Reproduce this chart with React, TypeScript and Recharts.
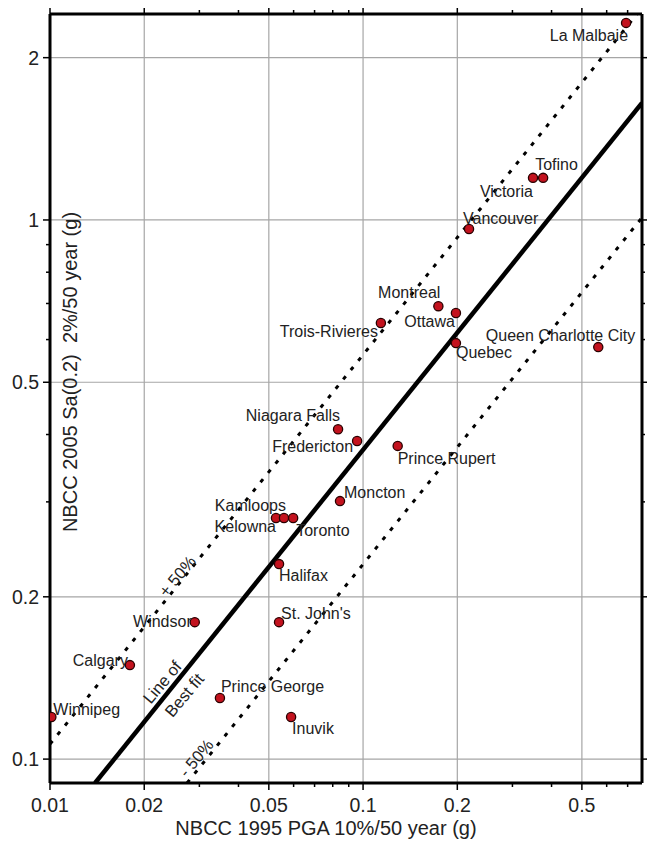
import React from 'react';
import { ScatterChart, Scatter, XAxis, YAxis, CartesianGrid } from 'recharts';

// city names and the two hazard values
const cities = [
  'La Malbaie', 'Tofino', 'Victoria', 'Vancouver', 'Montreal', 'Ottawa',
  'Trois-Rivieres', 'Quebec', 'Queen Charlotte City', 'Niagara Falls',
  'Fredericton', 'Prince Rupert', 'Moncton', 'Kamloops', 'Kelowna', 'Toronto',
  'Halifax', 'Windsor', "St. John's", 'Calgary', 'Prince George', 'Inuvik',
  'Winnipeg',
];
const pga1995 = [
  0.692, 0.376, 0.349, 0.218, 0.174, 0.198, 0.114, 0.198, 0.564, 0.0832,
  0.0957, 0.129, 0.0844, 0.0527, 0.0559, 0.0598, 0.0539, 0.029, 0.0539,
  0.018, 0.0349, 0.0589, 0.0101,
];
const sa2005 = [
  2.32, 1.197, 1.197, 0.962, 0.692, 0.672, 0.644, 0.591, 0.581, 0.409,
  0.389, 0.381, 0.301, 0.28, 0.28, 0.28, 0.23, 0.1795, 0.1795, 0.1494,
  0.1298, 0.1197, 0.1197,
];

const xMajor = [0.01, 0.02, 0.05, 0.1, 0.2, 0.5];
const xMinor = [0.03, 0.04, 0.06, 0.07, 0.08, 0.09, 0.3, 0.4, 0.6, 0.7];
const yMajor = [0.1, 0.2, 0.5, 1, 2];
const yMinor = [0.3, 0.4, 0.6, 0.7, 0.8, 0.9];

const xDomain = [0.01, 0.778];
const yDomain = [0.0903, 2.41];

// line endpoints
const bestFit = [{ x: 0.01393, y: 0.0903 }, { x: 0.778, y: 1.648 }];
const plus50 = [{ x: 0.01, y: 0.1066 }, { x: 0.75, y: 2.41 }];
const minus50 = [{ x: 0.0274, y: 0.0903 }, { x: 0.778, y: 1.01 }];

const lineNotes = [
  { x: 0.0228, y: 0.139, text: 'Line of' },
  { x: 0.0268, y: 0.1315, text: 'Best fit' },
  { x: 0.02546, y: 0.2185, text: '+ 50%' },
  { x: 0.02928, y: 0.1005, text: '- 50%' },
];

const points = cities.map((name, i) => ({ name, x: pga1995[i], y: sa2005[i] }));

const FONT = '"Liberation Sans", Arial, Helvetica, sans-serif';

// label placement: anchor, dx, dy (baseline) relative to the dot
const labelPos: Record<string, [string, number, number]> = {
  'La Malbaie': ['end', 2, 18],
  Tofino: ['start', -8, -8],
  Victoria: ['end', 0, 19],
  Vancouver: ['start', -6, -5],
  Montreal: ['end', 2, -8],
  Ottawa: ['end', -1, 14],
  'Trois-Rivieres': ['end', -3, 14],
  Quebec: ['start', 0, 15],
  'Queen Charlotte City': ['end', 37, -6],
  'Niagara Falls': ['end', 2, -8],
  Fredericton: ['end', -4, 11],
  'Prince Rupert': ['start', 0, 18],
  Moncton: ['start', 4, -3],
  Kamloops: ['end', 10, -7],
  Kelowna: ['end', -8, 14],
  Toronto: ['start', 3, 18],
  Halifax: ['start', 0, 17],
  Windsor: ['end', -3, 5],
  "St. John's": ['start', 2, -3],
  Calgary: ['end', -2, 1],
  'Prince George': ['start', 1, -6],
  Inuvik: ['start', 1, 17],
  Winnipeg: ['start', 2, -2],
};

const CityDot = (props: any) => {
  const { cx, cy, payload } = props;
  const [anchor, dx, dy] = labelPos[payload.name] || ['start', 6, -6];
  return (
    <g>
      <circle cx={cx} cy={cy} r={4.6} fill="#c3121e" stroke="#2a0000" strokeWidth={1.3} />
      <text x={cx + dx} y={cy + dy} textAnchor={anchor} fontSize={16} fontFamily={FONT} fill="#222">
        {payload.name}
      </text>
    </g>
  );
};

const NoteText = (props: any) => {
  const { cx, cy, payload } = props;
  return (
    <text
      x={cx}
      y={cy}
      textAnchor="middle"
      dominantBaseline="central"
      fontSize={16.5}
      fontFamily={FONT}
      fill="#222"
      transform={`rotate(-50 ${cx} ${cy})`}
    >
      {payload.text}
    </text>
  );
};

const Nothing = () => <g />;

const BottomTick = (props: any) => {
  const { x, y, payload } = props;
  const major = xMajor.includes(payload.value);
  return (
    <g>
      <line x1={x} x2={x} y1={y} y2={y + (major ? 7 : 4)} stroke="#000" strokeWidth={1.5} />
      {major && (
        <text x={x} y={y + 29} textAnchor="middle" fontSize={19.5} fontFamily={FONT} fill="#222">
          {String(payload.value)}
        </text>
      )}
    </g>
  );
};

const TopTick = (props: any) => {
  const { x, y, payload } = props;
  const major = xMajor.includes(payload.value);
  return <line x1={x} x2={x} y1={y} y2={y - (major ? 6 : 4)} stroke="#000" strokeWidth={1.5} />;
};

const LeftTick = (props: any) => {
  const { x, y, payload } = props;
  const major = yMajor.includes(payload.value);
  return (
    <g>
      <line x1={x - (major ? 7 : 4)} x2={x} y1={y} y2={y} stroke="#000" strokeWidth={1.5} />
      {major && (
        <text x={x - 11} y={y + 7} textAnchor="end" fontSize={19.5} fontFamily={FONT} fill="#222">
          {String(payload.value)}
        </text>
      )}
    </g>
  );
};

const RightTick = (props: any) => {
  const { x, y, payload } = props;
  const major = yMajor.includes(payload.value);
  return <line x1={x} x2={x + (major ? 5 : 3)} y1={y} y2={y} stroke="#000" strokeWidth={1.5} />;
};

const XTitle = (props: any) => {
  const { x, y } = props.viewBox;
  return (
    <text x={x + 276} y={y + 52} textAnchor="middle" fontSize={20} fontFamily={FONT} fill="#222">
      NBCC 1995 PGA 10%/50 year (g)
    </text>
  );
};

const YTitle = (props: any) => {
  const { x, width } = props.viewBox;
  const cx = x + width + 20;
  const cy = 372;
  return (
    <text
      x={cx}
      y={cy}
      textAnchor="middle"
      dominantBaseline="central"
      fontSize={20}
      fontFamily={FONT}
      fill="#222"
      transform={`rotate(-90 ${cx} ${cy})`}
    >
      {'NBCC 2005 Sa(0.2)\u00a0\u00a02%/50 year (g)'}
    </text>
  );
};

const xTicks = [...xMajor, ...xMinor].sort((a, b) => a - b);
const yTicks = [...yMajor, ...yMinor].sort((a, b) => a - b);

export default function App() {
  return (
    <div style={{ position: 'absolute', left: 0, top: 0, background: '#fff' }}>
      <ScatterChart width={647} height={842} margin={{ top: 0, right: 0, bottom: 0, left: 0 }}>
        <CartesianGrid
          xAxisId="b"
          yAxisId="l"
          stroke="#a6a6a6"
          strokeWidth={1.2}
          verticalValues={xMajor.slice(1)}
          horizontalValues={yMajor}
        />
        <XAxis
          xAxisId="b"
          type="number"
          dataKey="x"
          scale="log"
          domain={xDomain}
          allowDataOverflow
          ticks={xTicks}
          interval={0}
          tick={<BottomTick />}
          tickLine={false}
          tickSize={0}
          tickMargin={0}
          axisLine={{ stroke: '#000', strokeWidth: 3 }}
          height={59}
          label={<XTitle />}
        />
        <XAxis
          xAxisId="t"
          orientation="top"
          type="number"
          dataKey="x"
          scale="log"
          domain={xDomain}
          allowDataOverflow
          ticks={xTicks}
          interval={0}
          tick={<TopTick />}
          tickLine={false}
          tickSize={0}
          tickMargin={0}
          axisLine={{ stroke: '#000', strokeWidth: 3 }}
          height={14}
        />
        <YAxis
          yAxisId="l"
          type="number"
          dataKey="y"
          scale="log"
          domain={yDomain}
          allowDataOverflow
          ticks={yTicks}
          interval={0}
          tick={<LeftTick />}
          tickLine={false}
          tickSize={0}
          tickMargin={0}
          axisLine={{ stroke: '#000', strokeWidth: 3 }}
          width={50}
          label={<YTitle />}
        />
        <YAxis
          yAxisId="r"
          orientation="right"
          type="number"
          dataKey="y"
          scale="log"
          domain={yDomain}
          allowDataOverflow
          ticks={yTicks}
          interval={0}
          tick={<RightTick />}
          tickLine={false}
          tickSize={0}
          tickMargin={0}
          axisLine={{ stroke: '#000', strokeWidth: 3 }}
          width={5}
        />
        <Scatter
          xAxisId="b"
          yAxisId="l"
          data={plus50}
          line={{ stroke: '#000', strokeWidth: 3, strokeDasharray: '4 8' }}
          shape={<Nothing />}
          isAnimationActive={false}
        />
        <Scatter
          xAxisId="b"
          yAxisId="l"
          data={minus50}
          line={{ stroke: '#000', strokeWidth: 3, strokeDasharray: '4 8' }}
          shape={<Nothing />}
          isAnimationActive={false}
        />
        <Scatter
          xAxisId="b"
          yAxisId="l"
          data={bestFit}
          line={{ stroke: '#000', strokeWidth: 4.5 }}
          shape={<Nothing />}
          isAnimationActive={false}
        />
        <Scatter
          xAxisId="b"
          yAxisId="l"
          data={lineNotes}
          shape={<NoteText />}
          isAnimationActive={false}
        />
        <Scatter
          xAxisId="b"
          yAxisId="l"
          data={points}
          shape={<CityDot />}
          isAnimationActive={false}
        />
      </ScatterChart>
    </div>
  );
}
